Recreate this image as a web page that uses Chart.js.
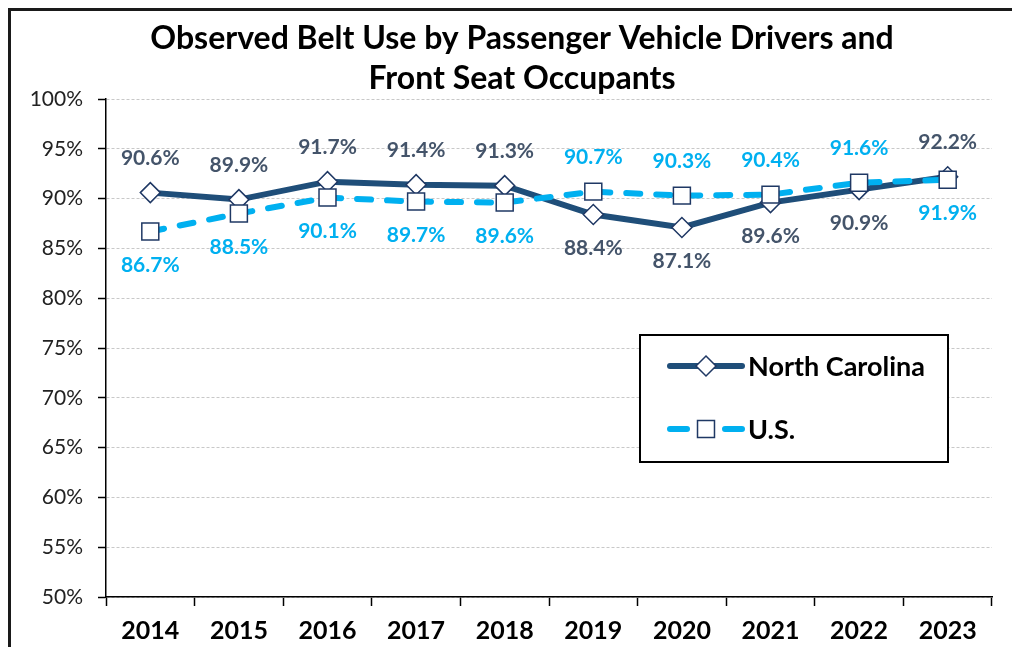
<!DOCTYPE html>
<html>
<head>
<meta charset="utf-8">
<script src="https://cdn.jsdelivr.net/npm/chart.js@4.4.1/dist/chart.umd.min.js"></script>
<style>
  html, body { margin: 0; padding: 0; background: #fff; overflow: hidden; }
  #frame { position: absolute; left: 8px; top: 8px; width: 1100px; height: 1000px;
           border-top: 3px solid #1a1a1a; border-left: 3px solid #1a1a1a; }
  #wrap { position: absolute; left: 0; top: 0; width: 1044px; height: 647px; }
</style>
</head>
<body>
<div id="frame"></div>
<div id="wrap"><canvas id="chart"></canvas></div>
<script>
const years = ['2014', '2015', '2016', '2017', '2018', '2019', '2020', '2021', '2022', '2023'];
const ncValues = [90.6, 89.9, 91.7, 91.4, 91.3, 88.4, 87.1, 89.6, 90.9, 92.2];
const usValues = [86.7, 88.5, 90.1, 89.7, 89.6, 90.7, 90.3, 90.4, 91.6, 91.9];
// where each value label sits relative to its point
const ncLabelSide = ['up', 'up', 'up', 'up', 'up', 'down', 'down', 'down', 'down', 'up'];
const usLabelSide = ['down', 'down', 'down', 'down', 'down', 'up', 'up', 'up', 'up', 'down'];
const yMin = 50, yMax = 100, yStep = 5;
const titleLines = ['Observed Belt Use by Passenger Vehicle Drivers and', 'Front Seat Occupants'];

const FONT = 'Lato, "Open Sans", sans-serif';
const ncColor = '#1F4E79';
const usColor = '#00B0F0';
const ncText = '#44546A';
const markerEdge = '#1F3864';

const valueLabels = {
  id: 'valueLabels',
  afterDatasetsDraw(chart) {
    const ctx = chart.ctx;
    ctx.save();
    ctx.font = 'bold 21px ' + FONT;
    ctx.textAlign = 'center';
    ctx.textBaseline = 'middle';
    chart.data.datasets.forEach((ds, i) => {
      const meta = chart.getDatasetMeta(i);
      meta.data.forEach((pt, j) => {
        const dy = ds.labelSide[j] === 'up' ? -34 : 34;
        ctx.fillStyle = ds.labelColor;
        ctx.fillText(ds.data[j].toFixed(1) + '%', pt.x, pt.y + dy);
      });
    });
    ctx.restore();
  }
};

const boxLegend = {
  id: 'boxLegend',
  afterDraw(chart) {
    const ctx = chart.ctx;
    const a = chart.chartArea;
    const x0 = a.right - 352, y0 = a.top + 236, w = 308, h = 127;
    ctx.save();
    ctx.fillStyle = '#fff';
    ctx.fillRect(x0, y0, w, h);
    ctx.strokeStyle = '#000';
    ctx.lineWidth = 2;
    ctx.strokeRect(x0, y0, w, h);
    const rows = [chart.data.datasets[1], chart.data.datasets[0]];
    rows.forEach((ds, i) => {
      const y = y0 + 31 + i * 63;
      const lx = x0 + 30, rx = x0 + 102, mx = x0 + 66;
      ctx.strokeStyle = ds.borderColor;
      ctx.lineWidth = ds.borderWidth;
      ctx.lineCap = 'round';
      ctx.beginPath();
      if (ds.borderDash) {
        ctx.moveTo(lx, y); ctx.lineTo(lx + 17, y);
        ctx.moveTo(rx - 17, y); ctx.lineTo(rx, y);
      } else {
        ctx.moveTo(lx, y); ctx.lineTo(rx, y);
      }
      ctx.stroke();
      ctx.fillStyle = ds.pointBackgroundColor;
      ctx.strokeStyle = ds.pointBorderColor;
      ctx.lineWidth = ds.pointBorderWidth;
      Chart.helpers.drawPoint(ctx, { pointStyle: ds.pointStyle, radius: ds.pointRadius, borderWidth: ds.pointBorderWidth, rotation: 0 }, mx, y);
      ctx.fillStyle = '#000';
      ctx.font = 'bold 27px ' + FONT;
      ctx.textAlign = 'left';
      ctx.textBaseline = 'middle';
      ctx.fillText(ds.label, rx + 6, y + 1);
    });
    ctx.restore();
  }
};

new Chart(document.getElementById('chart'), {
  type: 'line',
  data: {
    labels: years,
    datasets: [
      {
        label: 'U.S.',
        data: usValues,
        order: 0,
        borderColor: usColor,
        borderWidth: 6,
        borderDash: [14, 16],
        borderCapStyle: 'round',
        tension: 0,
        pointStyle: 'rect',
        pointRadius: 12,
        pointBackgroundColor: '#fff',
        pointBorderColor: markerEdge,
        pointBorderWidth: 1.5,
        labelSide: usLabelSide,
        labelColor: usColor
      },
      {
        label: 'North Carolina',
        data: ncValues,
        order: 1,
        borderColor: ncColor,
        borderWidth: 6,
        tension: 0,
        pointStyle: 'rectRot',
        pointRadius: 10,
        pointBackgroundColor: '#fff',
        pointBorderColor: markerEdge,
        pointBorderWidth: 1.5,
        labelSide: ncLabelSide,
        labelColor: ncText
      }
    ]
  },
  options: {
    responsive: true,
    maintainAspectRatio: false,
    animation: false,
    events: [],
    layout: { padding: { left: 20, right: 20, top: 9, bottom: 0 } },
    plugins: {
      legend: { display: false },
      tooltip: { enabled: false },
      title: {
        display: true,
        text: titleLines,
        color: '#000',
        font: { family: FONT, size: 32, weight: 'bold', lineHeight: 1.25 },
        padding: { top: 10, bottom: 0 }
      }
    },
    scales: {
      x: {
        offset: true,
        grid: { offset: true, drawOnChartArea: false, drawTicks: true, tickLength: 9, tickColor: '#000', tickWidth: 1.5 },
        border: { color: '#000', width: 1.5 },
        ticks: { color: '#000', padding: 10, font: { family: FONT, size: 25, weight: 'bold' } },
        afterFit(scale) { scale.height = 50; }
      },
      y: {
        min: yMin,
        max: yMax,
        grid: { color: '#c8c8c8', lineWidth: 1, drawTicks: true, tickLength: 8, tickColor: '#000', tickWidth: 1.5, tickBorderDash: [] },
        border: { color: '#000', width: 1.5, dash: [3, 2] },
        ticks: { stepSize: yStep, color: '#222', padding: 15, font: { family: FONT, size: 21 }, callback: v => v + '%' },
        afterFit(scale) { scale.width = 86; }
      },
      // blank right-hand axis: keeps the plot edge where it is while the title centres over a wider box
      spacer: {
        type: 'linear',
        position: 'right',
        min: yMin,
        max: yMax,
        grid: { drawOnChartArea: false, drawTicks: false },
        border: { display: false },
        ticks: { display: false },
        afterFit(scale) { scale.width = 32; }
      }
    }
  },
  plugins: [valueLabels, boxLegend]
});
</script>
</body>
</html>
